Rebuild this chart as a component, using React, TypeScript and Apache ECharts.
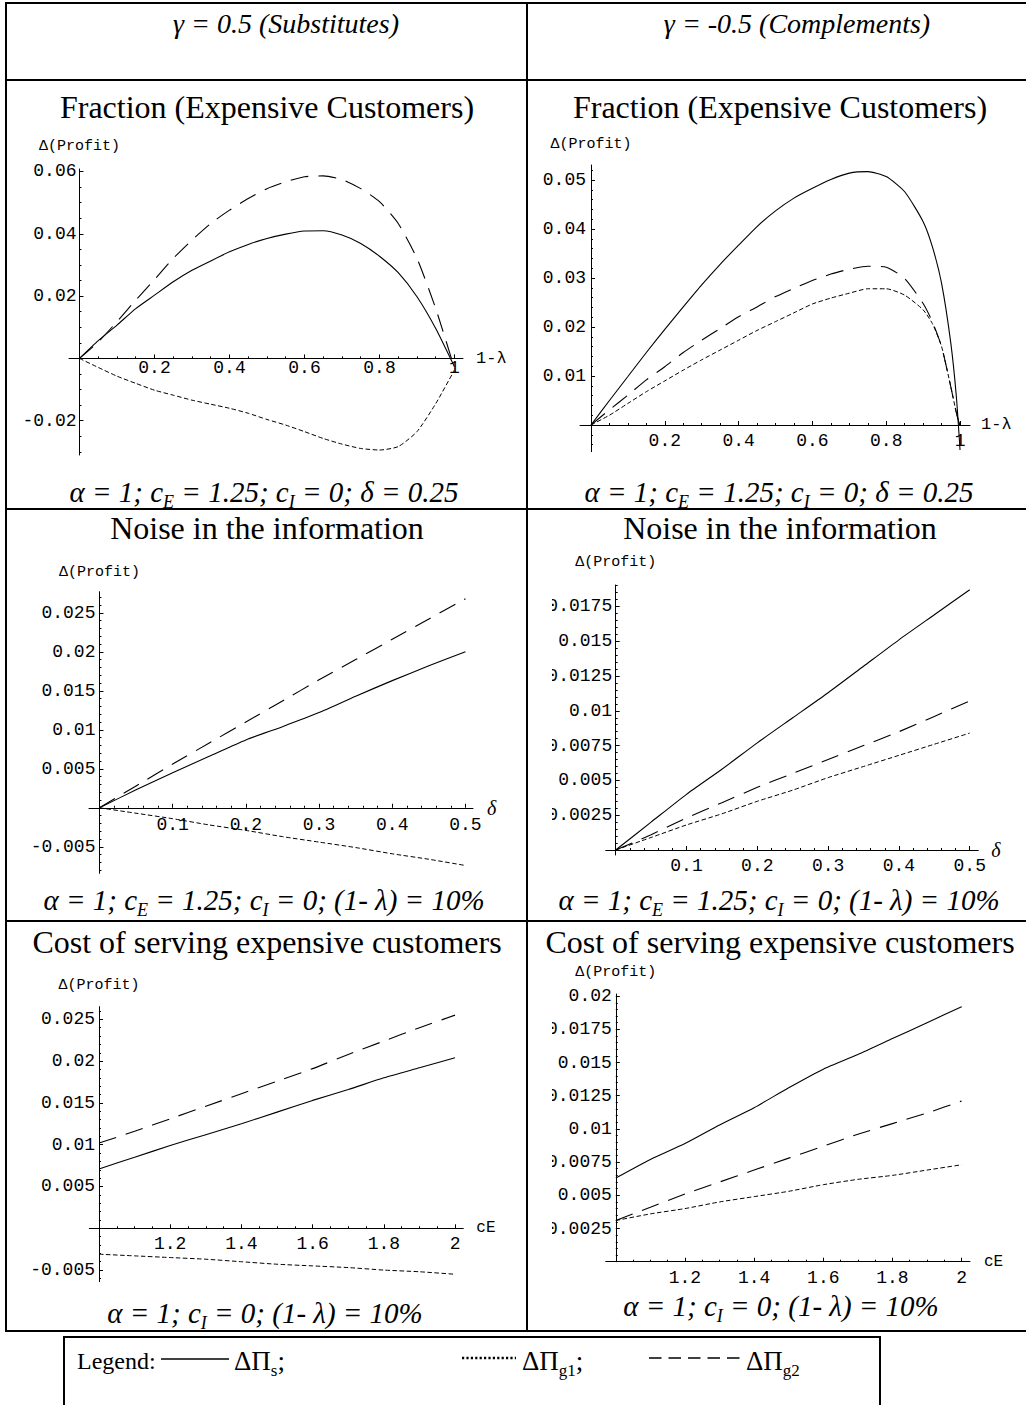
import { useEffect, useRef } from 'react';
import * as echarts from 'echarts';

// ---------------- data ----------------
// Row 1: fraction of expensive customers, x = 1-λ
const SUBST_FRACTION_X = [0, 0.05, 0.1, 0.15, 0.2, 0.25, 0.3, 0.35, 0.4, 0.45, 0.5, 0.55, 0.6, 0.65, 0.7, 0.75, 0.8, 0.85, 0.9, 0.95, 1.0];
const SUBST_FRACTION_S = [0, 0.0057, 0.0107, 0.016, 0.0203, 0.0246, 0.0283, 0.0313, 0.0342, 0.0366, 0.0385, 0.0399, 0.0409, 0.041, 0.0396, 0.0369, 0.0328, 0.0275, 0.0198, 0.0096, -0.0027];
const SUBST_FRACTION_G1 = [0, -0.0029, -0.0057, -0.008, -0.0102, -0.0118, -0.0134, -0.0147, -0.016, -0.0176, -0.0196, -0.0214, -0.0235, -0.0257, -0.0275, -0.0289, -0.0294, -0.0283, -0.0235, -0.0145, -0.0037];
const SUBST_FRACTION_G2 = [0, 0.0053, 0.0118, 0.0187, 0.0253, 0.0321, 0.038, 0.0433, 0.0476, 0.0513, 0.0545, 0.0567, 0.0583, 0.0586, 0.0574, 0.0545, 0.0503, 0.0433, 0.0321, 0.016, -0.0032];

const COMPL_FRACTION_X = [0, 0.05, 0.1, 0.15, 0.2, 0.25, 0.3, 0.35, 0.4, 0.45, 0.5, 0.55, 0.6, 0.65, 0.7, 0.75, 0.8, 0.85, 0.9, 0.925, 0.95, 0.975, 0.99, 1.0];
const COMPL_FRACTION_S = [0, 0.005, 0.0099, 0.0148, 0.0195, 0.0241, 0.0286, 0.0328, 0.0367, 0.0405, 0.0437, 0.0463, 0.0483, 0.0501, 0.0514, 0.0517, 0.0507, 0.0476, 0.0415, 0.0364, 0.0289, 0.0167, 0.0058, -0.0051];
const COMPL_FRACTION_G1 = [0, 0.002, 0.0044, 0.0068, 0.009, 0.0112, 0.0133, 0.0153, 0.0173, 0.0193, 0.0211, 0.0229, 0.0247, 0.0259, 0.0269, 0.0278, 0.0278, 0.0265, 0.0235, 0.0207, 0.016, 0.0078, 0.0025, -0.0003];
const COMPL_FRACTION_G2 = [0, 0.0031, 0.0061, 0.0092, 0.0119, 0.0148, 0.0173, 0.0197, 0.0221, 0.0241, 0.0262, 0.0279, 0.0295, 0.0308, 0.0318, 0.0324, 0.0322, 0.0299, 0.0248, 0.0211, 0.016, 0.0078, 0.0025, -0.0003];

// Row 2: noise in the information, x = δ
const NOISE_X = [0, 0.05, 0.1, 0.15, 0.2, 0.25, 0.3, 0.35, 0.4, 0.45, 0.5];
const SUBST_NOISE_S = [0, 0.0023, 0.0045, 0.0066, 0.0087, 0.0104, 0.0122, 0.0143, 0.0163, 0.0182, 0.02];
const SUBST_NOISE_G1 = [0, -0.0007, -0.0014, -0.0022, -0.0029, -0.0037, -0.0044, -0.0051, -0.0059, -0.0066, -0.0074];
const SUBST_NOISE_G2 = [0, 0.0028, 0.0056, 0.0083, 0.011, 0.0137, 0.0164, 0.019, 0.0216, 0.0242, 0.0268];
const COMPL_NOISE_S = [0, 0.002, 0.004, 0.0058, 0.0077, 0.0095, 0.0113, 0.0132, 0.0151, 0.0169, 0.0187];
const COMPL_NOISE_G1 = [0, 0.0009, 0.0018, 0.0026, 0.0035, 0.0043, 0.0052, 0.006, 0.0068, 0.0076, 0.0084];
const COMPL_NOISE_G2 = [0, 0.0011, 0.0023, 0.0034, 0.0045, 0.0055, 0.0065, 0.0075, 0.0085, 0.0096, 0.0107];

// Row 3: cost of serving expensive customers, x = cE
const COST_X = [1, 1.1, 1.2, 1.3, 1.4, 1.5, 1.6, 1.7, 1.8, 1.9, 2];
const SUBST_COST_S = [0.0071, 0.0085, 0.0099, 0.0112, 0.0125, 0.0139, 0.0153, 0.0166, 0.018, 0.0192, 0.0204];
const SUBST_COST_G1 = [-0.0031, -0.0033, -0.0035, -0.0037, -0.004, -0.0043, -0.0045, -0.0047, -0.005, -0.0052, -0.0055];
const SUBST_COST_G2 = [0.0102, 0.0116, 0.0131, 0.0146, 0.0161, 0.0176, 0.0191, 0.0208, 0.0224, 0.024, 0.0255];
const COMPL_COST_S = [0.0063, 0.0077, 0.0089, 0.0103, 0.0116, 0.0131, 0.0145, 0.0156, 0.0168, 0.018, 0.0192];
const COMPL_COST_G1 = [0.0031, 0.0036, 0.004, 0.0045, 0.0049, 0.0053, 0.0058, 0.0062, 0.0065, 0.0069, 0.0073];
const COMPL_COST_G2 = [0.0031, 0.0041, 0.0051, 0.006, 0.0069, 0.0078, 0.0087, 0.0096, 0.0104, 0.0112, 0.0121];

// tick labels
const X_TICKS_FRACTION = [0.2, 0.4, 0.6, 0.8, 1];
const X_TICKS_NOISE = [0.1, 0.2, 0.3, 0.4, 0.5];
const X_TICKS_COST = [1.2, 1.4, 1.6, 1.8, 2];
const Y_TICKS_SUBST_FRACTION = [-0.02, 0.02, 0.04, 0.06];
const Y_TICKS_COMPL_FRACTION = [0.01, 0.02, 0.03, 0.04, 0.05];
const Y_TICKS_SUBST_NOISE = [-0.005, 0.005, 0.01, 0.015, 0.02, 0.025];
const Y_TICKS_COMPL_NOISE = [0.0025, 0.005, 0.0075, 0.01, 0.0125, 0.015, 0.0175];
const Y_TICKS_SUBST_COST = [-0.005, 0.005, 0.01, 0.015, 0.02, 0.025];
const Y_TICKS_COMPL_COST = [0.0025, 0.005, 0.0075, 0.01, 0.0125, 0.015, 0.0175, 0.02];

// texts
const SERIES_NAMES = ['ΔΠs', 'ΔΠg1', 'ΔΠg2'];
const HEADERS = ['γ = 0.5 (Substitutes)', 'γ = -0.5 (Complements)'];
const ROW_TITLES = ['Fraction (Expensive Customers)', 'Noise in the information', 'Cost of serving expensive customers'];
const CAPTION_FRACTION = '{i|α = 1; c}{s|E}{i| = 1.25; c}{s|I}{i| = 0; δ = 0.25}';
const CAPTION_NOISE = '{i|α = 1; c}{s|E}{i| = 1.25; c}{s|I}{i| = 0; (1- λ) = 10%}';
const CAPTION_COST = '{i|α = 1; c}{s|I}{i| = 0; (1- λ) = 10%}';
const Y_NAME = 'Δ(Profit)';

// ---------------- styling / layout ----------------
const MONO = "'Liberation Mono', 'Courier New', monospace";
const SERIF = "'Liberation Serif', 'Times New Roman', serif";

type Layout = {
  left: number; top: number; width: number; height: number;
  xMin: number; xMax: number; yMin: number; yMax: number; origin: number;
  xLabelMargin: number; yLabelMargin: number; xNameGap: number; yNameGap: number;
};

const PANELS = [
  {
    x: SUBST_FRACTION_X, s: SUBST_FRACTION_S, g1: SUBST_FRACTION_G1, g2: SUBST_FRACTION_G2,
    xTicks: X_TICKS_FRACTION, yTicks: Y_TICKS_SUBST_FRACTION, xMinor: 0.05, yMinor: 0.005,
    xName: '1-λ', xNameFont: { fontFamily: MONO, fontSize: 17 },
    L: { left: 69, top: 169, width: 394, height: 286, xMin: -0.028, xMax: 1.0227, yMin: -0.031, yMax: 0.0608, origin: 0, xLabelMargin: 1, yLabelMargin: 3, xNameGap: 13, yNameGap: 15 } as Layout,
  },
  {
    x: COMPL_FRACTION_X, s: COMPL_FRACTION_S, g1: COMPL_FRACTION_G1, g2: COMPL_FRACTION_G2,
    xTicks: X_TICKS_FRACTION, yTicks: Y_TICKS_COMPL_FRACTION, xMinor: 0.05, yMinor: 0.002,
    xName: '1-λ', xNameFont: { fontFamily: MONO, fontSize: 17 },
    L: { left: 580, top: 165, width: 390, height: 286.7, xMin: -0.0298, xMax: 1.027, yMin: -0.00545, yMax: 0.05306, origin: 0, xLabelMargin: 7, yLabelMargin: 5, xNameGap: 11, yNameGap: 13 } as Layout,
  },
  {
    x: NOISE_X, s: SUBST_NOISE_S, g1: SUBST_NOISE_G1, g2: SUBST_NOISE_G2,
    xTicks: X_TICKS_NOISE, yTicks: Y_TICKS_SUBST_NOISE, xMinor: 0.02, yMinor: 0.001,
    xName: 'δ', xNameFont: { fontFamily: SERIF, fontSize: 20, fontStyle: 'italic' },
    L: { left: 89, top: 591.7, width: 384, height: 281.6, xMin: -0.0143, xMax: 0.5103, yMin: -0.0084, yMax: 0.0277, origin: 0, xLabelMargin: 8, yLabelMargin: 4, xNameGap: 14, yNameGap: 12 } as Layout,
  },
  {
    x: NOISE_X, s: COMPL_NOISE_S, g1: COMPL_NOISE_G1, g2: COMPL_NOISE_G2,
    xTicks: X_TICKS_NOISE, yTicks: Y_TICKS_COMPL_NOISE, xMinor: 0.02, yMinor: 0.0005,
    xName: 'δ', xNameFont: { fontFamily: SERIF, fontSize: 20, fontStyle: 'italic' },
    L: { left: 605.7, top: 585, width: 372.6, height: 270, xMin: -0.0141, xMax: 0.5121, yMin: -0.00036, yMax: 0.01904, origin: 0, xLabelMargin: 7, yLabelMargin: 3.5, xNameGap: 13, yNameGap: 15 } as Layout,
  },
  {
    x: COST_X, s: SUBST_COST_S, g1: SUBST_COST_G1, g2: SUBST_COST_G2,
    xTicks: X_TICKS_COST, yTicks: Y_TICKS_SUBST_COST, xMinor: 0.05, yMinor: 0.001,
    xName: 'cE', xNameFont: { fontFamily: MONO, fontSize: 16 },
    L: { left: 89.3, top: 1006.7, width: 374, height: 275, xMin: 0.9727, xMax: 2.0232, yMin: -0.00639, yMax: 0.02651, origin: 1, xLabelMargin: 7, yLabelMargin: 4, xNameGap: 13, yNameGap: 14 } as Layout,
  },
  {
    x: COST_X, s: COMPL_COST_S, g1: COMPL_COST_G1, g2: COMPL_COST_G2,
    xTicks: X_TICKS_COST, yTicks: Y_TICKS_COMPL_COST, xMinor: 0.05, yMinor: 0.0005,
    xName: 'cE', xNameFont: { fontFamily: MONO, fontSize: 16 },
    L: { left: 605.7, top: 994, width: 364.3, height: 267.7, xMin: 0.9708, xMax: 2.0243, yMin: 0, yMax: 0.02016, origin: 1, xLabelMargin: 7, yLabelMargin: 4, xNameGap: 14, yNameGap: 14 } as Layout,
  },
];

const LINE_STYLES = [
  { color: '#000', width: 1.1, type: 'solid' },
  { color: '#000', width: 1, type: [4.5, 2.5] },
  { color: '#000', width: 1.1, type: [18, 10] },
];

function minorTicks(min: number, max: number, step: number, majors: number[], origin: number) {
  const out: number[] = [];
  for (let k = Math.ceil(min / step - 1e-9); k * step <= max + 1e-12; k++) {
    const v = +(k * step).toFixed(8);
    if (Math.abs(v - origin) < step / 2) continue;
    if (majors.some((m) => Math.abs(m - v) < step / 2)) continue;
    out.push(v);
  }
  return out;
}

const fmt = (v: number) => String(+Number(v).toFixed(6));

function buildOption() {
  const grid: any[] = [];
  const xAxis: any[] = [];
  const yAxis: any[] = [];
  const series: any[] = [];
  const labelStyle = { color: '#000', fontFamily: MONO, fontSize: 18 };

  PANELS.forEach((p, i) => {
    const L = p.L;
    grid.push({ left: L.left, top: L.top, width: L.width, height: L.height, containLabel: false, outerBoundsMode: 'none' });
    const xOff = -((0 - L.yMin) / (L.yMax - L.yMin)) * L.height;
    const yOff = -((L.origin - L.xMin) / (L.xMax - L.xMin)) * L.width;
    const xBase = { type: 'value', gridIndex: i, min: L.xMin, max: L.xMax, position: 'bottom', offset: xOff, splitLine: { show: false } };
    const yBase = { type: 'value', gridIndex: i, min: L.yMin, max: L.yMax, position: 'left', offset: yOff, splitLine: { show: false } };
    xAxis.push({
      ...xBase,
      axisLine: { show: true, onZero: false, lineStyle: { color: '#000', width: 1 } },
      axisTick: { show: true, inside: true, length: 4, customValues: p.xTicks, lineStyle: { color: '#000', width: 1 } },
      axisLabel: { show: true, customValues: p.xTicks, margin: L.xLabelMargin, formatter: fmt, ...labelStyle },
      name: p.xName, nameLocation: 'end', nameGap: L.xNameGap, nameMoveOverlap: false,
      nameTextStyle: { color: '#000', align: 'left', verticalAlign: 'middle', ...p.xNameFont },
    });
    xAxis.push({
      ...xBase,
      axisLine: { show: false, onZero: false },
      axisTick: { show: true, inside: true, length: 2, customValues: minorTicks(L.xMin, L.xMax, p.xMinor, p.xTicks, L.origin), lineStyle: { color: '#000', width: 1 } },
      axisLabel: { show: false },
    });
    yAxis.push({
      ...yBase,
      axisLine: { show: true, onZero: false, lineStyle: { color: '#000', width: 1 } },
      axisTick: { show: true, inside: true, length: 4, customValues: p.yTicks, lineStyle: { color: '#000', width: 1 } },
      axisLabel: { show: true, customValues: p.yTicks, margin: L.yLabelMargin, formatter: fmt, ...labelStyle },
      name: Y_NAME, nameLocation: 'end', nameGap: L.yNameGap, nameMoveOverlap: false,
      nameTextStyle: { color: '#000', align: 'center', verticalAlign: 'bottom', fontFamily: MONO, fontSize: 15 },
    });
    yAxis.push({
      ...yBase,
      axisLine: { show: false, onZero: false },
      axisTick: { show: true, inside: true, length: 2, customValues: minorTicks(L.yMin, L.yMax, p.yMinor, p.yTicks, 0), lineStyle: { color: '#000', width: 1 } },
      axisLabel: { show: false },
    });
    const ys = [p.s, p.g1, p.g2];
    ys.forEach((arr, k) => {
      series.push({
        type: 'line', name: SERIES_NAMES[k], xAxisIndex: 2 * i, yAxisIndex: 2 * i,
        data: p.x.map((xv, j) => [xv, arr[j]]),
        showSymbol: false, symbol: 'none', smooth: 0.2, clip: false, silent: true,
        lineStyle: LINE_STYLES[k], z: 3,
      });
    });
  });

  const line = (x1: number, y1: number, x2: number, y2: number, lineWidth = 2, lineDash?: number[]) => ({
    type: 'line', z: 100, silent: true,
    shape: { x1, y1, x2, y2 },
    style: { stroke: '#000', lineWidth, lineDash, fill: 'none' },
  });
  const text = (x: number, y: number, t: string, font: string, align = 'center') => ({
    type: 'text', x, y, z: 100, silent: true,
    style: { text: t, font, fill: '#000', align, textAlign: align, verticalAlign: 'middle', textVerticalAlign: 'middle' },
  });
  const rich = (x: number, y: number, t: string, main: any, sub: any, align = 'center') => ({
    type: 'text', x, y, z: 100, silent: true,
    style: {
      text: t, fill: '#000', align, textAlign: align, verticalAlign: 'middle', textVerticalAlign: 'middle',
      rich: {
        i: { fill: '#000', verticalAlign: 'middle', ...main },
        m: { fill: '#000', verticalAlign: 'middle', ...main },
        s: { fill: '#000', verticalAlign: 'bottom', ...sub },
      },
    },
  });
  const capMain = { fontFamily: SERIF, fontStyle: 'italic', fontSize: 29, lineHeight: 37 };
  const capSub = { fontFamily: SERIF, fontStyle: 'italic', fontSize: 18, lineHeight: 37 };
  const legMain = { fontFamily: SERIF, fontSize: 27, lineHeight: 35 };
  const legSub = { fontFamily: SERIF, fontSize: 17, lineHeight: 35 };
  const titleFont = `32px ${SERIF}`;
  const headFont = `italic 28px ${SERIF}`;

  const graphic: any[] = [
    // clipping of the right column's leftmost label characters
    { type: 'rect', z: 90, silent: true, shape: { x: 529, y: 511, width: 23, height: 408 }, style: { fill: '#fff' } },
    { type: 'rect', z: 90, silent: true, shape: { x: 529, y: 923, width: 23, height: 406 }, style: { fill: '#fff' } },
    // table rules
    line(5, 3, 1026, 3),
    line(5, 80, 1026, 80),
    line(5, 509, 1026, 509),
    line(5, 921, 1026, 921),
    line(5, 1331, 1026, 1331),
    line(6, 2, 6, 1332),
    line(527, 2, 527, 1332),
    // headers and row titles
    text(286, 23, HEADERS[0], headFont),
    text(797, 23, HEADERS[1], headFont),
    text(267, 107, ROW_TITLES[0], titleFont),
    text(780, 107, ROW_TITLES[0], titleFont),
    text(267, 528, ROW_TITLES[1], titleFont),
    text(780, 528, ROW_TITLES[1], titleFont),
    text(267, 942, ROW_TITLES[2], titleFont),
    text(780, 942, ROW_TITLES[2], titleFont),
    // captions
    rich(264, 492, CAPTION_FRACTION, capMain, capSub),
    rich(779, 492, CAPTION_FRACTION, capMain, capSub),
    rich(264, 900, CAPTION_NOISE, capMain, capSub),
    rich(779, 900, CAPTION_NOISE, capMain, capSub),
    rich(265, 1313, CAPTION_COST, capMain, capSub),
    rich(781, 1306, CAPTION_COST, capMain, capSub),
    // legend box
    { type: 'rect', z: 100, silent: true, shape: { x: 64, y: 1337, width: 816, height: 120 }, style: { fill: 'none', stroke: '#000', lineWidth: 2 } },
    text(77, 1361, 'Legend:', `24px ${SERIF}`, 'left'),
    line(161, 1359, 229, 1359, 1.3),
    rich(234, 1361, '{m|ΔΠ}{s|s}{m|;}', legMain, legSub, 'left'),
    line(462, 1358, 516, 1358, 2.6, [2.2, 2.2]),
    rich(522, 1361, '{m|ΔΠ}{s|g1}{m|;}', legMain, legSub, 'left'),
    line(649, 1358, 743, 1358, 1.5, [12.5, 7]),
    rich(746, 1361, '{m|ΔΠ}{s|g2}', legMain, legSub, 'left'),
  ];

  return {
    animation: false,
    backgroundColor: '#fff',
    textStyle: { fontFamily: SERIF },
    grid, xAxis, yAxis, series, graphic,
  };
}

export default function App() {
  const ref = useRef<HTMLDivElement>(null);
  useEffect(() => {
    if (!ref.current) return;
    const chart = echarts.init(ref.current, null, { renderer: 'svg' });
    chart.setOption(buildOption() as any);
    return () => chart.dispose();
  }, []);
  return (
    <div
      ref={ref}
      style={{ position: 'absolute', left: 0, top: 0, width: 1026, height: 1405, background: '#fff' }}
    />
  );
}
